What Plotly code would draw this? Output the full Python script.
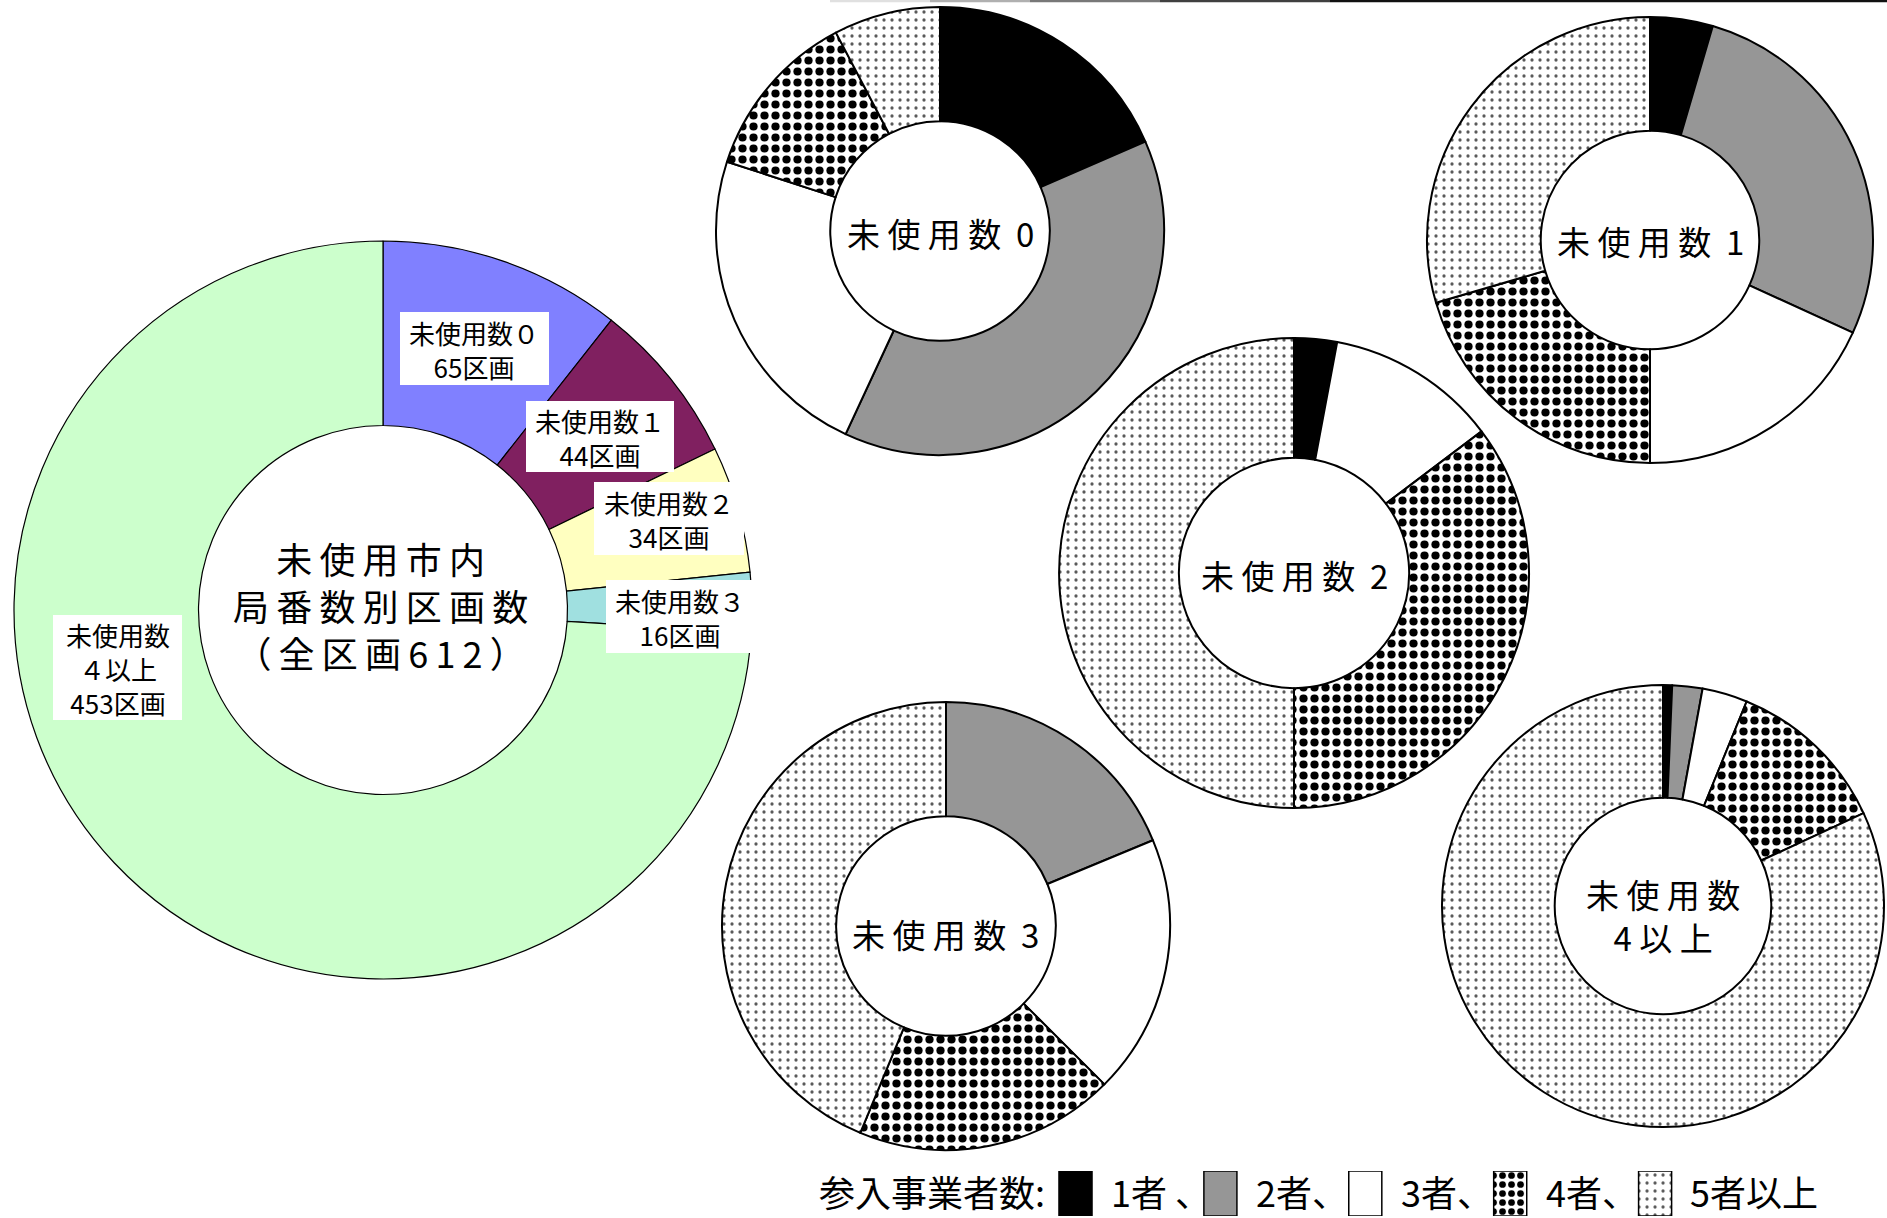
import plotly.graph_objects as go

W, H = 1887, 1218
FONT = "Noto Sans CJK JP"
TS = "\u2009"  # thin space used as letter spacing

# Blocks (区画) grouped by the number of unused local office codes
group_lines = [
    ["未使用数０"],
    ["未使用数１"],
    ["未使用数２"],
    ["未使用数３"],
    ["未使用数", "４以上"],
]
blocks = [65, 44, 34, 16, 453]
group_colors = ["#8080FF", "#802060", "#FFFFC0", "#A0E0E0", "#CCFFCC"]

# Number of entrant carriers (参入事業者数) within each group
bidder_labels = ["1者", "2者", "3者", "4者", "5者以上"]
legend_texts = ["1者 、", "2者、", "3者、", "4者、", "5者以上"]
unused_0 = [12, 25, 15, 8, 5]
unused_1 = [2, 12, 8, 9, 13]
unused_2 = [1, 0, 4, 12, 17]
unused_3 = [0, 3, 3, 3, 7]
unused_4plus = [3, 10, 15, 54, 371]
small_titles = ["未 使 用 数  0", "未 使 用 数  1", "未 使 用 数  2",
                "未 使 用 数  3", "未 使 用 数<br>4 以 上"]

# Fill styles for the carrier-count categories
bidder_colors = ["#000000", "#969696", "#FFFFFF", "#FFFFFF", "#FFFFFF"]
pattern_shapes = ["", "", "", ".", "."]
pattern_fg = ["#000000", "#000000", "#000000", "#000000", "#5a5a5a"]
pattern_size = [8, 8, 8, 11, 8]
pattern_solid = [0.3, 0.3, 0.3, 0.44, 0.13]


def px_x(x):
    return x / W


def px_y(y):
    return 1 - y / H


def domain(cx, cy, r):
    return dict(x=[px_x(cx - r), px_x(cx + r)], y=[px_y(cy + r), px_y(cy - r)])


fig = go.Figure()

# Large donut: all 612 blocks
big_cx, big_cy, big_r = 383, 610, 369
fig.add_trace(go.Pie(
    labels=[" ".join(g) for g in group_lines], values=blocks,
    sort=False, direction="clockwise", rotation=0, hole=0.5,
    marker=dict(colors=group_colors, line=dict(color="#000000", width=1.2)),
    textinfo="none", domain=domain(big_cx, big_cy, big_r), showlegend=False,
))

# Small donuts: carrier count breakdown per group
small_specs = [
    (unused_0, 940, 231, 224, 233),
    (unused_1, 1650, 240, 223, 241),
    (unused_2, 1294, 573, 235, 575),
    (unused_3, 946, 926, 224, 934),
    (unused_4plus, 1663, 906, 221, 915),
]
for (vals, cx, cy, r, ty), title in zip(small_specs, small_titles):
    fig.add_trace(go.Pie(
        labels=bidder_labels, values=vals,
        sort=False, direction="clockwise", rotation=0, hole=0.49,
        marker=dict(
            colors=bidder_colors,
            line=dict(color="#000000", width=2),
            pattern=dict(shape=pattern_shapes, fgcolor=pattern_fg,
                         size=pattern_size, solidity=pattern_solid,
                         fillmode="replace"),
        ),
        textinfo="none", domain=domain(cx, cy, r), showlegend=False,
    ))

annotations = []
shapes = []

# Centre caption of the large donut
total = sum(blocks)
center_lines = [TS.join("未使用市内"), TS.join("局番数別区画数"),
                TS.join("（全区画" + str(total) + "）")]
annotations.append(dict(
    x=px_x(380), y=px_y(605), xref="paper", yref="paper",
    text="<br>".join(center_lines), showarrow=False,
    xanchor="center", yanchor="middle", align="center",
    font=dict(family=FONT, size=36, color="#000000"),
))

# Boxed slice labels of the large donut
label_boxes = [
    (400, 549, 312, 385),
    (526, 674, 401, 472),
    (594, 744, 482, 555),
    (606, 753, 580, 653),
    (53, 182, 615, 720),
]
for lines, n, (x0, x1, y0, y1) in zip(group_lines, blocks, label_boxes):
    shapes.append(dict(
        type="rect", xref="paper", yref="paper", layer="above",
        x0=px_x(x0), x1=px_x(x1), y0=px_y(y1), y1=px_y(y0),
        fillcolor="#FFFFFF", line=dict(width=0),
    ))
    annotations.append(dict(
        x=px_x((x0 + x1) / 2), y=px_y((y0 + y1) / 2 + 1),
        xref="paper", yref="paper", text="<br>".join(lines + [f"{n}区画"]),
        showarrow=False, xanchor="center", yanchor="middle", align="center",
        font=dict(family=FONT, size=26, color="#000000"),
    ))

# Centre captions of the small donuts
for (vals, cx, cy, r, ty), title in zip(small_specs, small_titles):
    annotations.append(dict(
        x=px_x(cx), y=px_y(ty), xref="paper", yref="paper",
        text=title, showarrow=False, xanchor="center", yanchor="middle",
        font=dict(family=FONT, size=33, color="#000000"),
    ))

# Legend swatches drawn as a small bar row on their own axes.
# With fillmode "replace" the bar colour becomes the pattern ink.
legend_fill = [fg if shp else col
               for col, fg, shp in zip(bidder_colors, pattern_fg, pattern_shapes)]
sw_first, sw_step = 1075.5, 144.9
fig.add_trace(go.Bar(
    x=list(range(len(bidder_labels))), y=[1] * len(bidder_labels),
    width=0.228, showlegend=False, hoverinfo="skip",
    marker=dict(
        color=legend_fill, line=dict(color="#000000", width=1.5),
        pattern=dict(shape=pattern_shapes, size=[8, 8, 8, 9, 8],
                     solidity=pattern_solid, fillmode="replace"),
    ),
))
ax_left = sw_first - 0.5 * sw_step
ax_right = ax_left + len(bidder_labels) * sw_step

annotations.append(dict(
    x=-0.2, y=0.55, xref="x", yref="y", text="参入事業者数:",
    showarrow=False, xanchor="right", yanchor="middle",
    font=dict(family=FONT, size=36, color="#000000"),
))
for i, t in enumerate(legend_texts):
    annotations.append(dict(
        x=i + 0.23, y=0.55, xref="x", yref="y", text=t,
        showarrow=False, xanchor="left", yanchor="middle",
        font=dict(family=FONT, size=36, color="#000000"),
    ))

# Thin rule along the top edge, fading in from the left
rule = [(830, 930, "#e0e0e0"), (930, 1030, "#b0b0b0"), (1030, 1160, "#787878"),
        (1160, 1330, "#404040"), (1330, 1887, "#111111")]
for a, b, c in rule:
    shapes.append(dict(
        type="line", xref="paper", yref="paper",
        x0=px_x(a), x1=px_x(b), y0=px_y(1), y1=px_y(1),
        line=dict(color=c, width=2.5),
    ))

fig.update_layout(
    width=W, height=H,
    margin=dict(l=0, r=0, t=0, b=0, pad=0),
    paper_bgcolor="#FFFFFF", plot_bgcolor="#FFFFFF",
    showlegend=False,
    font=dict(family=FONT),
    xaxis=dict(domain=[px_x(ax_left), px_x(ax_right)],
               range=[-0.5, len(bidder_labels) - 0.5],
               visible=False, fixedrange=True),
    yaxis=dict(domain=[px_y(1216), px_y(1171)], range=[0, 1],
               visible=False, fixedrange=True),
    annotations=annotations,
    shapes=shapes,
)

fig.write_html("out.html")
